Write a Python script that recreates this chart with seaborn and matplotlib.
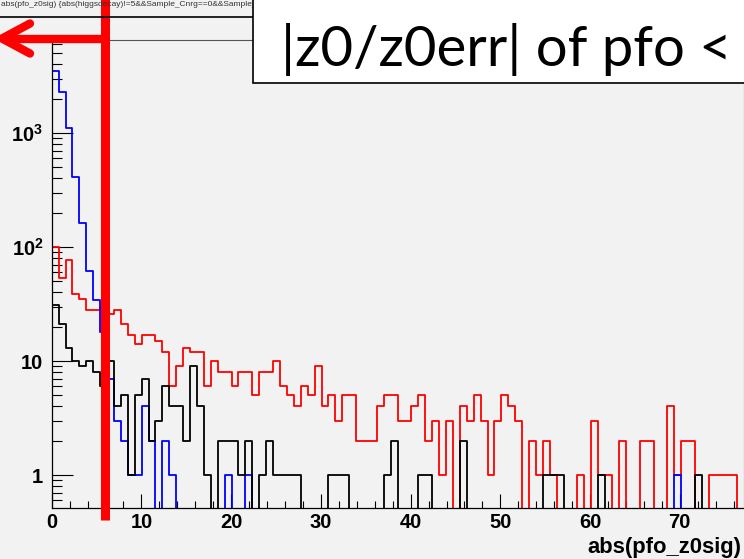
import numpy as np
import pandas as pd
import seaborn as sns
import matplotlib
matplotlib.use("Agg")
import matplotlib.pyplot as plt
from matplotlib.lines import Line2D
from matplotlib.patches import Rectangle
from matplotlib.ticker import FixedLocator, FixedFormatter, MultipleLocator, NullFormatter, LogLocator

# ---------------- data ----------------
n_bins = 100
bin_width = 0.771

blue_counts = [3520, 2300, 1100, 409, 162, 62, 34, 18, 7, 3,
               2, 1, 1, 4, 2, 0, 2, 1, 0, 0,
               0, 0, 0, 0, 0, 1, 0, 0, 1, 0,
               0, 0, 0, 0, 0, 0, 0, 0, 0, 0,
               0, 0, 0, 0, 0, 0, 0, 0, 0, 0,
               0, 0, 0, 0, 0, 0, 0, 0, 0, 0,
               0, 0, 0, 0, 0, 0, 0, 0, 0, 0,
               0, 0, 0, 0, 0, 0, 0, 0, 0, 0,
               0, 0, 0, 0, 0, 0, 0, 0, 0, 0,
               1, 0, 0, 0, 0, 0, 0, 0, 0, 0]

red_counts = [100, 54, 77, 39, 35, 28, 28, 30, 26, 28,
              21, 17, 14, 17, 17, 15, 12, 6, 9, 13,
              12, 12, 6, 10, 8, 8, 6, 8, 8, 5,
              8, 8, 10, 6, 5, 4, 6, 5, 9, 4,
              5, 3, 5, 5, 2, 2, 2, 4, 5, 5,
              3, 3, 4, 5, 2, 3, 1, 3, 0, 4,
              3, 5, 3, 1, 3, 5, 4, 3, 0, 2,
              1, 2, 1, 0, 0, 0, 1, 0, 3, 1,
              1, 0, 2, 0, 0, 2, 2, 0, 0, 4,
              1, 2, 2, 0, 0, 1, 1, 1, 1, 0]

black_counts = [31, 21, 13, 10, 9, 10, 8, 6, 10, 4,
                5, 1, 5, 7, 2, 3, 6, 4, 4, 2,
                9, 4, 1, 0, 2, 2, 2, 1, 2, 0,
                1, 2, 1, 1, 1, 1, 0, 0, 0, 0,
                1, 1, 1, 0, 0, 0, 0, 0, 1, 2,
                0, 0, 0, 1, 1, 0, 0, 0, 0, 2,
                0, 0, 0, 0, 0, 0, 0, 0, 0, 0,
                0, 1, 1, 1, 0, 0, 0, 0, 0, 1,
                0, 0, 0, 0, 0, 0, 0, 0, 0, 0,
                0, 0, 0, 1, 0, 0, 0, 0, 0, 0]

x_ticks = [0, 10, 20, 30, 40, 50, 60, 70]
x_tick_labels = ["0", "10", "20", "30", "40", "50", "60", "70"]
y_ticks = [1, 10, 100, 1000]
y_tick_labels = ["1", "10", r"$\mathbf{10^{2}}$", r"$\mathbf{10^{3}}$"]
y_range = (0.514, 6540)

x_title = "abs(pfo_z0sig)"
box_text = "|z0/z0err| of pfo <"
top_caption = "abs(pfo_z0sig) {abs(higgsdecay)!=5&&Sample_Cnrg==0&&Sample_c==0&&Sample_scan}"
cut_value = 5.9

# ---------------- style ----------------
BG = "#f2f2f2"
W, H = 744, 559
plt.rcParams["font.family"] = ["Liberation Sans", "DejaVu Sans"]
plt.rcParams["mathtext.fontset"] = "custom"
plt.rcParams["mathtext.rm"] = "Liberation Sans"
plt.rcParams["mathtext.bf"] = "Liberation Sans:bold"

fig = plt.figure(figsize=(W / 100, H / 100), dpi=100, facecolor=BG)


def fx(px):
    return px / W


def fy(py):
    return 1 - py / H


ax_l, ax_r, ax_t, ax_b = 51.7, 743.5, 40, 508
ax = fig.add_axes([fx(ax_l), fy(ax_b), fx(ax_r - ax_l), (ax_b - ax_t) / H])
ax.set_facecolor(BG)

edges = np.arange(n_bins + 1) * bin_width


def frame_for(counts, name):
    vals = np.append(np.asarray(counts, dtype=float), counts[-1])
    vals = np.where(vals > 0, vals, 1e-3)  # empty bins go down to the frame
    return pd.DataFrame({"edge": edges, "count": vals, "series": name})


df = pd.concat([frame_for(red_counts, "red"),
                frame_for(blue_counts, "blue"),
                frame_for(black_counts, "black")], ignore_index=True)

for name, col in [("red", "#ff0000"), ("blue", "#0000ff"), ("black", "#000000")]:
    sns.lineplot(data=df[df.series == name], x="edge", y="count", ax=ax,
                 color=col, lw=1.3, drawstyle="steps-post",
                 estimator=None, sort=False, legend=False)

ax.set_yscale("log")
ax.set_xlim(0, n_bins * bin_width)
ax.set_ylim(*y_range)
ax.set_xlabel("")
ax.set_ylabel("")

ax.xaxis.set_major_locator(FixedLocator(x_ticks))
ax.xaxis.set_major_formatter(FixedFormatter(x_tick_labels))
ax.xaxis.set_minor_locator(MultipleLocator(2))
ax.yaxis.set_major_locator(FixedLocator(y_ticks))
ax.yaxis.set_major_formatter(FixedFormatter(y_tick_labels))
ax.yaxis.set_minor_locator(LogLocator(base=10, subs=range(2, 10), numticks=20))
ax.yaxis.set_minor_formatter(NullFormatter())

ax.tick_params(axis="both", which="both", direction="in", top=False, right=False,
               colors="black", width=0.8)
ax.tick_params(axis="y", which="major", length=15, pad=6.0, labelsize=14.5)
ax.tick_params(axis="y", which="minor", length=7.5)
ax.tick_params(axis="x", which="major", length=10, pad=3.5, labelsize=14.5)
ax.tick_params(axis="x", which="minor", length=5)
for lab in ax.get_xticklabels() + ax.get_yticklabels():
    lab.set_fontweight("bold")

for s in ["left", "bottom"]:
    ax.spines[s].set_color("black")
    ax.spines[s].set_linewidth(0.9)
for s in ["top", "right"]:
    ax.spines[s].set_color("#555555")
    ax.spines[s].set_linewidth(0.8)

fig.text(fx(741.5), fy(548), x_title, ha="right", va="center",
         fontsize=15.8, fontweight="bold")

# cropped title pave above the frame
fig.add_artist(Line2D([0, 1], [fy(17), fy(17)], transform=fig.transFigure,
                      color="black", lw=1.2))
fig.text(fx(1), fy(1), top_caption, ha="left", va="top",
         fontsize=6, color="#333333")

# ---------------- red overlay annotations ----------------
ax.axvline(cut_value, ymin=(ax_b - 520) / (ax_b - ax_t), ymax=(ax_b + 2) / (ax_b - ax_t),
           color="#ff0000", lw=6.5, clip_on=False, solid_capstyle="butt", zorder=10)
arrow_y = 38.5
fig.add_artist(Line2D([fx(105), fx(2)], [fy(arrow_y), fy(arrow_y)],
                      transform=fig.transFigure, color="#ff0000", lw=6,
                      solid_capstyle="butt", zorder=10))
fig.add_artist(Line2D([fx(30), fx(2), fx(30)], [fy(23.5), fy(arrow_y), fy(53.5)],
                      transform=fig.transFigure, color="#ff0000", lw=6,
                      solid_capstyle="round", solid_joinstyle="round", zorder=10))

# white text box
fig.add_artist(Rectangle((fx(253), fy(83)), fx(520), 100 / H, transform=fig.transFigure,
                         facecolor="white", edgecolor="black", lw=1.2, zorder=11))
fig.text(fx(281), fy(66), box_text, ha="left", va="baseline", fontsize=40.5,
         family=["Lato", "DejaVu Sans"], color="black", zorder=12)

fig.savefig("out.png", dpi=100, facecolor=BG)
